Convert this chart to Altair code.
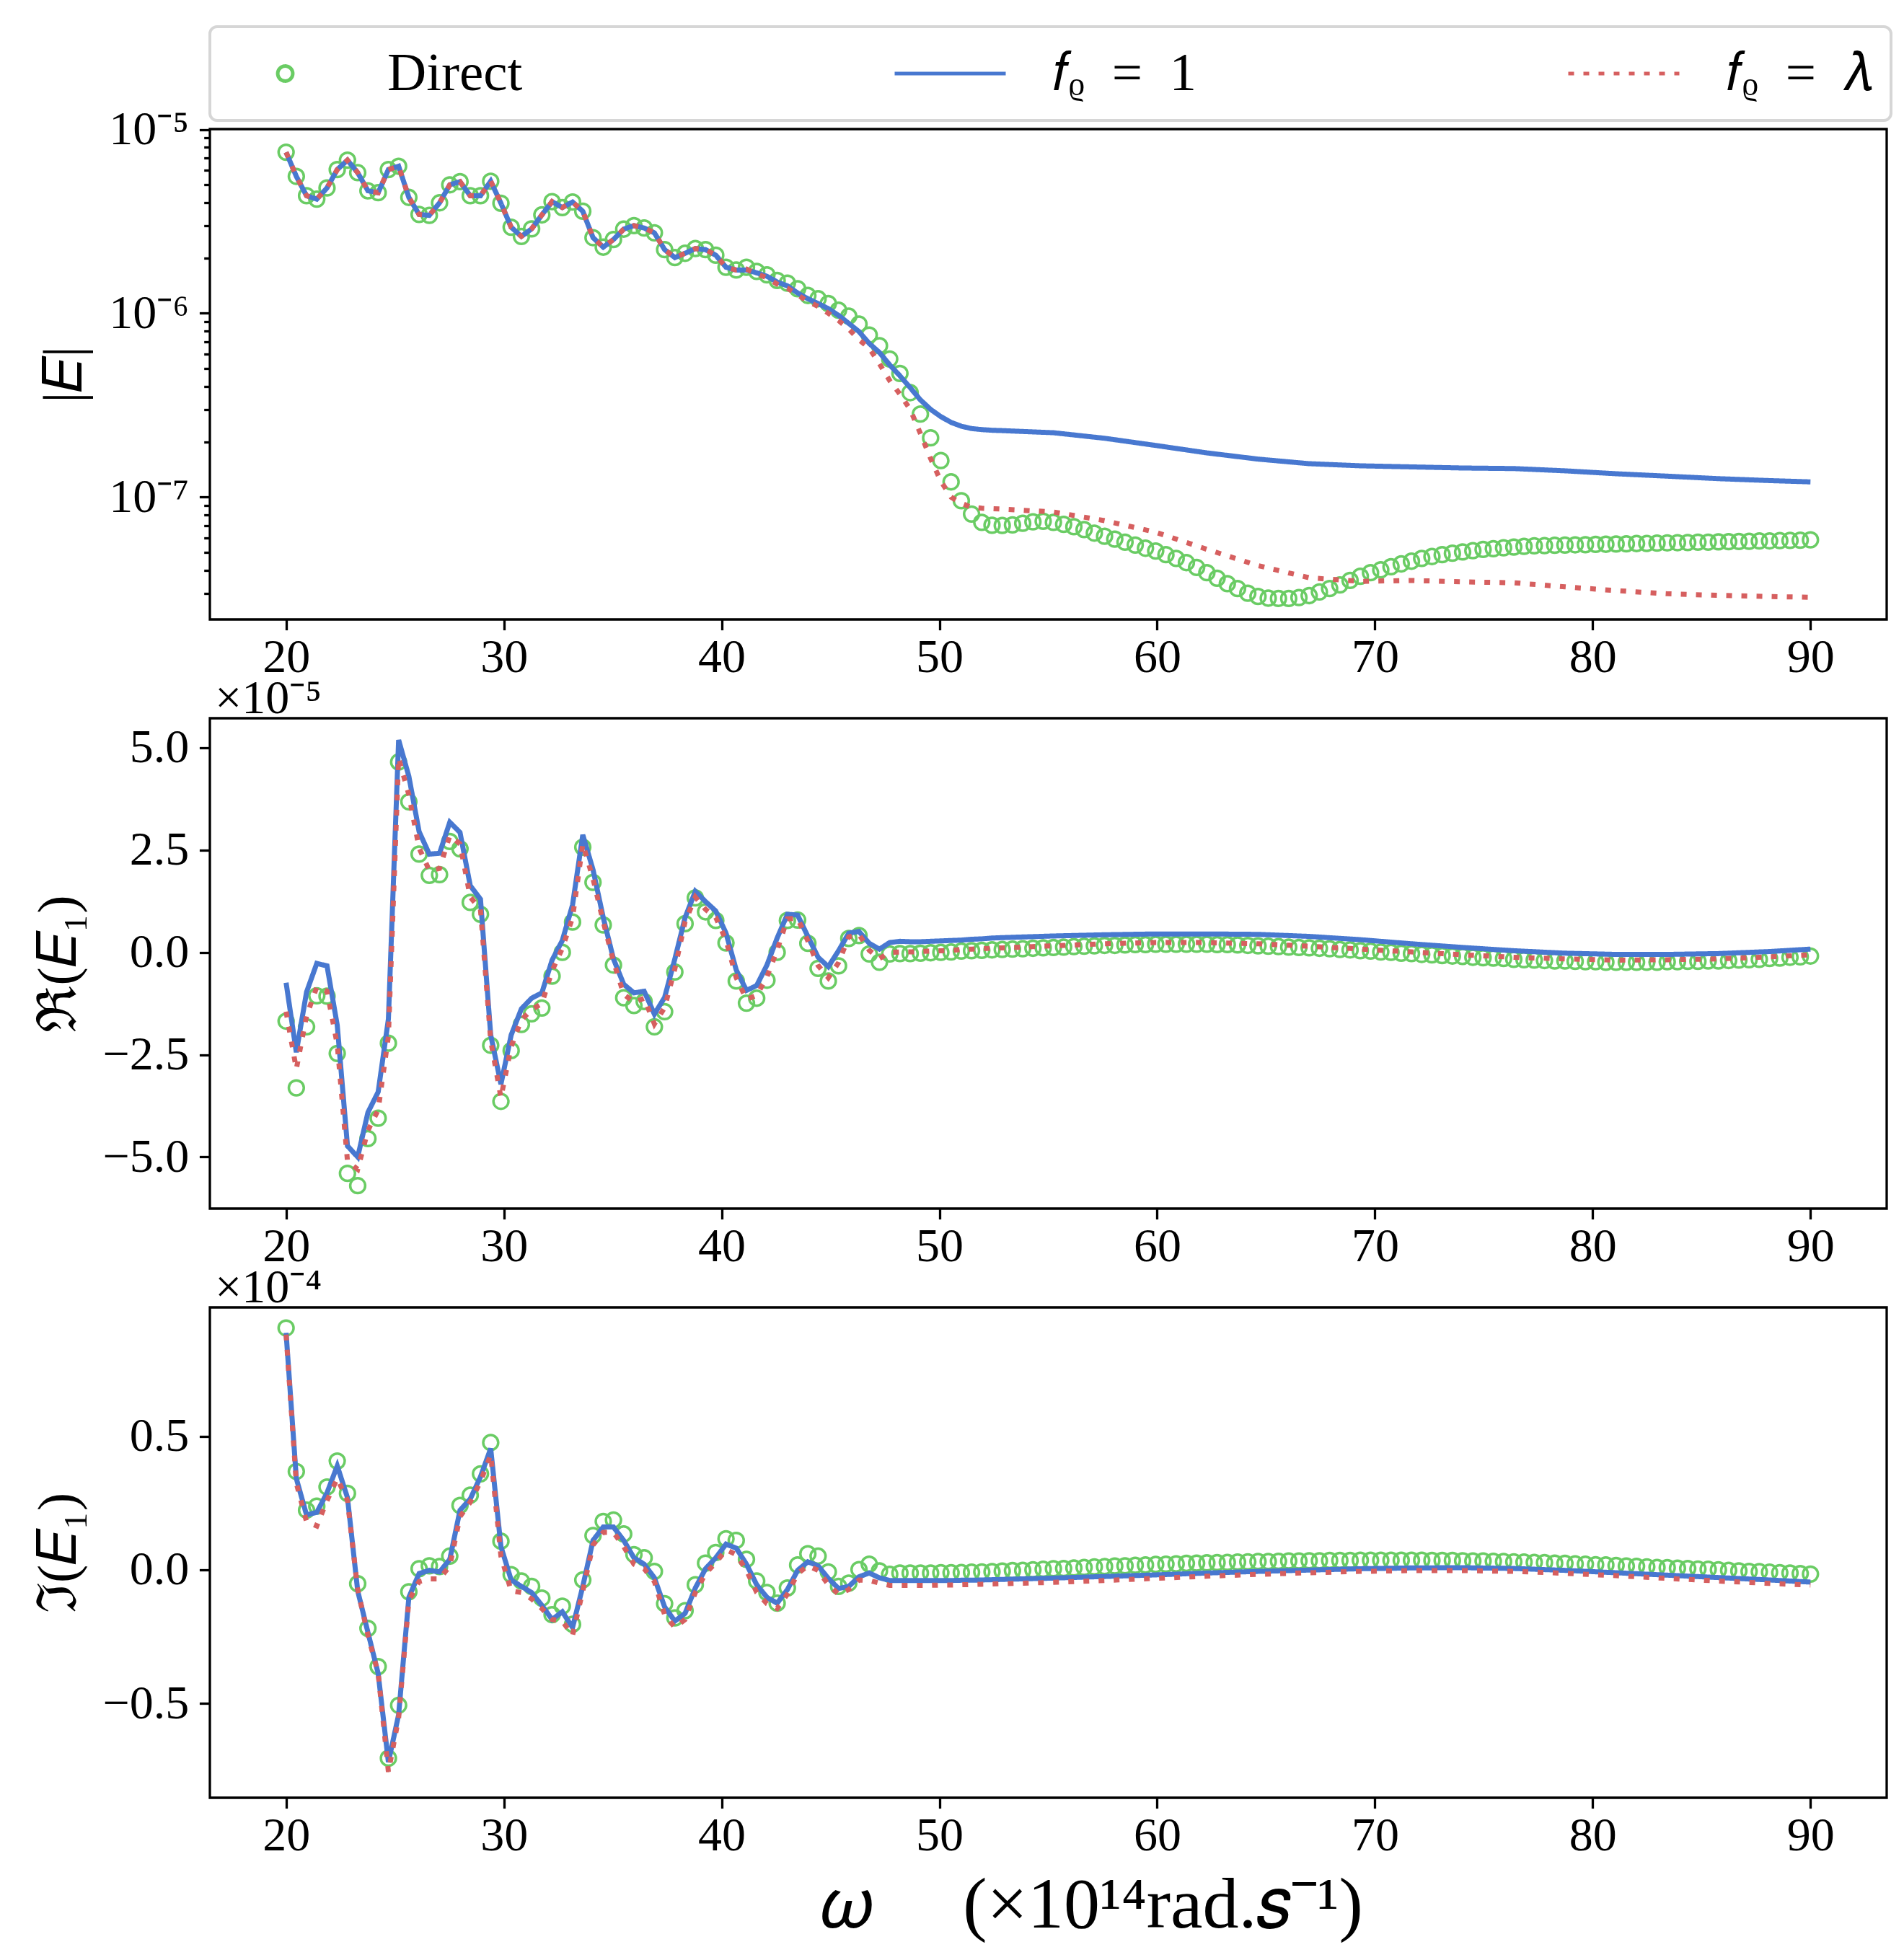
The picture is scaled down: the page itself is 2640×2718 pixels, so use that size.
import numpy as np
import pandas as pd
import altair as alt

# ---------------- data ----------------
OMEGA = np.linspace(20.0, 90.0, 150)          # 150 frequency samples
LINE_IDX = list(range(71)) + list(range(75, 150, 5)) + [149]   # samples used by the two model curves

SERIES = ["Direct", "𝑓ᵨ\u2002=\u20021", "𝑓ᵨ\u2002=\u2002𝜆"]
COLORS = ["#6acc64", "#4878d0", "#d65f5f"]

X_TICKS = [20, 30, 40, 50, 60, 70, 80, 90]
ABS_TICKS = [1e-7, 1e-6, 1e-5,
             3e-8, 4e-8, 5e-8, 6e-8, 7e-8, 8e-8, 9e-8,
             2e-7, 3e-7, 4e-7, 5e-7, 6e-7, 7e-7, 8e-7, 9e-7,
             2e-6, 3e-6, 4e-6, 5e-6, 6e-6, 7e-6, 8e-6, 9e-6]
RE_TICKS = [-5.0, -2.5, 0.0, 2.5, 5.0]
IM_TICKS = [-0.5, 0.0, 0.5]

# |E|  (direct solution, every sample)
ABS_DIRECT = [
    7.52e-6, 5.56e-6, 4.36e-6, 4.18e-6, 4.81e-6, 6.05e-6, 6.81e-6, 5.82e-6, 4.64e-6, 4.53e-6,
    6.05e-6, 6.31e-6, 4.27e-6, 3.45e-6, 3.41e-6, 3.99e-6, 5.00e-6, 5.20e-6, 4.36e-6, 4.36e-6,
    5.23e-6, 3.97e-6, 2.94e-6, 2.62e-6, 2.88e-6, 3.43e-6, 4.05e-6, 3.76e-6, 4.03e-6, 3.59e-6,
    2.58e-6, 2.29e-6, 2.52e-6, 2.87e-6, 3.00e-6, 2.91e-6, 2.74e-6, 2.22e-6, 2.01e-6, 2.12e-6,
    2.25e-6, 2.22e-6, 2.07e-6, 1.78e-6, 1.72e-6, 1.78e-6, 1.69e-6, 1.62e-6, 1.51e-6, 1.46e-6,
    1.36e-6, 1.25e-6, 1.20e-6, 1.13e-6, 1.04e-6, 9.64e-7, 8.73e-7, 7.62e-7, 6.66e-7, 5.64e-7,
    4.71e-7, 3.70e-7, 2.83e-7, 2.10e-7, 1.58e-7, 1.21e-7, 9.55e-8, 8.09e-8, 7.29e-8, 7.03e-8,
    7.01e-8, 7.06e-8, 7.21e-8, 7.34e-8, 7.39e-8, 7.29e-8, 7.11e-8, 6.90e-8, 6.66e-8, 6.37e-8,
    6.12e-8, 5.91e-8, 5.68e-8, 5.48e-8, 5.27e-8, 5.09e-8, 4.86e-8, 4.64e-8, 4.40e-8, 4.14e-8,
    3.88e-8, 3.62e-8, 3.38e-8, 3.18e-8, 3.00e-8, 2.88e-8, 2.82e-8, 2.81e-8, 2.81e-8, 2.84e-8,
    2.91e-8, 3.05e-8, 3.18e-8, 3.33e-8, 3.52e-8, 3.71e-8, 3.88e-8, 4.02e-8, 4.18e-8, 4.33e-8,
    4.48e-8, 4.64e-8, 4.75e-8, 4.86e-8, 4.95e-8, 5.03e-8, 5.11e-8, 5.19e-8, 5.24e-8, 5.30e-8,
    5.35e-8, 5.40e-8, 5.43e-8, 5.45e-8, 5.47e-8, 5.48e-8, 5.50e-8, 5.51e-8, 5.53e-8, 5.54e-8,
    5.56e-8, 5.57e-8, 5.59e-8, 5.60e-8, 5.62e-8, 5.63e-8, 5.65e-8, 5.66e-8, 5.68e-8, 5.69e-8,
    5.71e-8, 5.72e-8, 5.74e-8, 5.75e-8, 5.77e-8, 5.78e-8, 5.80e-8, 5.81e-8, 5.83e-8, 5.85e-8]
# |E| model curves (at LINE_IDX); they coincide with the direct values below omega ~41
ABS_F1 = ABS_DIRECT[:45] + [
    1.72e-6, 1.66e-6, 1.59e-6, 1.48e-6, 1.41e-6, 1.29e-6, 1.20e-6, 1.13e-6, 1.06e-6, 9.74e-7,
    8.81e-7, 7.95e-7, 6.85e-7, 6.12e-7, 5.24e-7, 4.57e-7, 3.94e-7, 3.38e-7, 3.00e-7, 2.74e-7,
    2.55e-7, 2.43e-7, 2.36e-7, 2.33e-7, 2.31e-7, 2.30e-7,
    2.24e-7, 2.09e-7, 1.91e-7, 1.74e-7, 1.61e-7, 1.52e-7, 1.48e-7, 1.46e-7, 1.44e-7, 1.43e-7,
    1.39e-7, 1.34e-7, 1.30e-7, 1.26e-7, 1.23e-7, 1.21e-7]
ABS_FL = ABS_DIRECT[:45] + [
    1.74e-6, 1.64e-6, 1.56e-6, 1.44e-6, 1.37e-6, 1.26e-6, 1.16e-6, 1.09e-6, 1.00e-6, 9.14e-7,
    8.20e-7, 7.18e-7, 6.46e-7, 5.31e-7, 4.30e-7, 3.63e-7, 3.00e-7, 2.22e-7, 1.62e-7, 1.22e-7,
    1.00e-7, 9.25e-8, 8.80e-8, 8.70e-8, 8.65e-8, 8.60e-8,
    8.30e-8, 7.45e-8, 6.44e-8, 5.20e-8, 4.24e-8, 3.64e-8, 3.48e-8, 3.52e-8, 3.46e-8, 3.42e-8,
    3.25e-8, 3.10e-8, 2.98e-8, 2.92e-8, 2.88e-8, 2.85e-8]

# Re(E1) in units of 1e-5
RE_DIRECT = [
    -1.68, -3.31, -1.82, -1.06, -1.07, -2.47, -5.40, -5.70, -4.55, -4.05,
    -2.22, 4.65, 3.68, 2.40, 1.88, 1.90, 2.71, 2.53, 1.22, 0.93,
    -2.27, -3.64, -2.40, -1.76, -1.50, -1.36, -0.58, 0.00, 0.74, 2.57,
    1.71, 0.67, -0.31, -1.11, -1.30, -1.20, -1.82, -1.45, -0.48, 0.70,
    1.33, 0.99, 0.78, 0.23, -0.70, -1.24, -1.12, -0.68, 0.00, 0.78,
    0.79, 0.22, -0.39, -0.70, -0.33, 0.34, 0.41, -0.04, -0.24, -0.04,
    -0.03, -0.03, -0.02, -0.01, 0.00, 0.01, 0.03, 0.04, 0.05, 0.06,
    0.07, 0.08, 0.09, 0.10, 0.11, 0.12, 0.13, 0.14, 0.15, 0.16,
    0.17, 0.17, 0.18, 0.19, 0.19, 0.20, 0.20, 0.20, 0.20, 0.20,
    0.20, 0.19, 0.19, 0.18, 0.17, 0.16, 0.15, 0.14, 0.13, 0.12,
    0.11, 0.10, 0.09, 0.07, 0.06, 0.04, 0.03, 0.01, 0.00, -0.02,
    -0.03, -0.05, -0.06, -0.08, -0.09, -0.10, -0.12, -0.13, -0.14, -0.15,
    -0.17, -0.18, -0.19, -0.20, -0.21, -0.21, -0.22, -0.23, -0.23, -0.24,
    -0.24, -0.24, -0.24, -0.24, -0.24, -0.23, -0.23, -0.22, -0.22, -0.21,
    -0.21, -0.20, -0.19, -0.18, -0.17, -0.15, -0.14, -0.12, -0.11, -0.09]
RE_F1 = [
    -0.74, -2.44, -0.97, -0.27, -0.33, -1.78, -4.73, -5.00, -3.91, -3.41,
    -1.63, 5.19, 4.30, 2.95, 2.40, 2.42, 3.18, 2.93, 1.63, 1.30,
    -2.02, -3.22, -2.02, -1.38, -1.12, -0.99, -0.19, 0.29, 1.16, 2.87,
    2.02, 0.85, -0.16, -0.78, -0.99, -0.95, -1.51, -1.10, -0.16, 0.85,
    1.49, 1.24, 1.01, 0.47, -0.43, -0.93, -0.81, -0.31, 0.35, 0.93,
    0.91, 0.39, -0.12, -0.35, 0.04, 0.47, 0.51, 0.22, 0.08, 0.24,
    0.27, 0.26, 0.26, 0.27, 0.28, 0.29, 0.30, 0.32, 0.33, 0.35, 0.36,
    0.40, 0.43, 0.45, 0.45, 0.44, 0.39, 0.31, 0.21, 0.12, 0.04, -0.02, -0.05, -0.05, -0.03, 0.02, 0.08]
RE_FL = [
    -1.45, -2.85, -1.55, -0.85, -0.95, -2.25, -5.10, -5.30, -4.35, -3.85,
    -2.05, 4.75, 3.85, 2.55, 2.00, 2.05, 2.85, 2.65, 1.35, 1.05,
    -2.15, -3.55, -2.30, -1.65, -1.40, -1.25, -0.45, 0.10, 0.85, 2.65,
    1.80, 0.75, -0.22, -1.02, -1.22, -1.12, -1.75, -1.35, -0.40, 0.75,
    1.35, 1.05, 0.85, 0.30, -0.62, -1.15, -1.05, -0.60, 0.06, 0.82,
    0.83, 0.28, -0.32, -0.62, -0.25, 0.38, 0.44, 0.05, -0.15, 0.00,
    0.01, 0.01, 0.02, 0.03, 0.04, 0.05, 0.07, 0.08, 0.09, 0.10, 0.11,
    0.16, 0.21, 0.24, 0.24, 0.21, 0.15, 0.08, 0.01, -0.06, -0.12, -0.16, -0.19, -0.18, -0.16, -0.11, -0.06]

# Im(E1) in units of 1e-4
IM_DIRECT = [
    0.905, 0.368, 0.223, 0.238, 0.310, 0.407, 0.286, -0.052, -0.219, -0.362,
    -0.705, -0.507, -0.082, 0.004, 0.015, 0.012, 0.051, 0.241, 0.279, 0.359,
    0.476, 0.107, -0.018, -0.042, -0.062, -0.106, -0.168, -0.136, -0.204, -0.038,
    0.128, 0.181, 0.186, 0.134, 0.057, 0.045, -0.006, -0.127, -0.180, -0.153,
    -0.056, 0.025, 0.065, 0.116, 0.110, 0.039, -0.042, -0.085, -0.125, -0.068,
    0.018, 0.060, 0.051, -0.008, -0.062, -0.050, 0.001, 0.021, -0.004, -0.017,
    -0.012, -0.012, -0.012, -0.012, -0.011, -0.011, -0.010, -0.009, -0.008, -0.007,
    -0.005, -0.003, -0.002, 0.000, 0.002, 0.004, 0.005, 0.007, 0.009, 0.011,
    0.012, 0.014, 0.015, 0.017, 0.018, 0.020, 0.021, 0.022, 0.024, 0.025,
    0.026, 0.027, 0.028, 0.029, 0.030, 0.031, 0.031, 0.032, 0.033, 0.033,
    0.034, 0.034, 0.035, 0.035, 0.035, 0.036, 0.036, 0.036, 0.036, 0.036,
    0.036, 0.036, 0.035, 0.035, 0.035, 0.034, 0.033, 0.033, 0.032, 0.031,
    0.030, 0.029, 0.028, 0.027, 0.025, 0.024, 0.022, 0.021, 0.019, 0.018,
    0.016, 0.014, 0.013, 0.011, 0.009, 0.008, 0.006, 0.005, 0.003, 0.002,
    0.000, -0.002, -0.004, -0.006, -0.007, -0.009, -0.011, -0.012, -0.014, -0.016]
IM_F1 = [
    0.887, 0.342, 0.205, 0.215, 0.288, 0.389, 0.270, -0.079, -0.234, -0.388,
    -0.720, -0.542, -0.103, -0.014, -0.002, -0.008, 0.039, 0.223, 0.265, 0.348,
    0.454, 0.087, -0.038, -0.062, -0.085, -0.133, -0.186, -0.157, -0.216, -0.062,
    0.110, 0.160, 0.160, 0.110, 0.045, 0.021, -0.030, -0.139, -0.192, -0.163,
    -0.068, 0.004, 0.045, 0.096, 0.081, 0.021, -0.056, -0.103, -0.125, -0.074,
    -0.002, 0.030, 0.015, -0.032, -0.070, -0.062, -0.026, -0.012, -0.030, -0.040,
    -0.040, -0.040, -0.040, -0.040, -0.040, -0.040, -0.039, -0.039, -0.038, -0.037, -0.036,
    -0.031, -0.025, -0.019, -0.012, -0.006, -0.001, 0.004, 0.007, 0.008, 0.005, -0.002, -0.011,
    -0.020, -0.029, -0.038, -0.046]
IM_FL = [
    0.880, 0.324, 0.180, 0.164, 0.259, 0.342, 0.259, -0.074, -0.245, -0.388,
    -0.756, -0.554, -0.115, -0.044, -0.034, -0.034, 0.015, 0.199, 0.253, 0.330,
    0.431, 0.051, -0.079, -0.085, -0.109, -0.145, -0.186, -0.192, -0.245, -0.079,
    0.093, 0.140, 0.140, 0.087, 0.021, 0.004, -0.044, -0.168, -0.216, -0.186,
    -0.085, -0.014, 0.027, 0.075, 0.057, -0.002, -0.085, -0.127, -0.145, -0.091,
    -0.014, 0.015, -0.002, -0.056, -0.091, -0.074, -0.038, -0.040, -0.050, -0.058,
    -0.058, -0.058, -0.058, -0.058, -0.057, -0.057, -0.056, -0.055, -0.054, -0.053, -0.052,
    -0.047, -0.040, -0.032, -0.024, -0.017, -0.011, -0.006, -0.003, -0.003, -0.006, -0.013, -0.022,
    -0.032, -0.042, -0.051, -0.057]

# ---------------- styling ----------------
FONT = "Liberation Serif"
CIRCLE = "M0.135,0A0.135,0.135,0,1,1,-0.135,0A0.135,0.135,0,1,1,0.135,0Z"
SYM = 23716
W, H = 2325, 680

color_scale = alt.Scale(domain=SERIES, range=COLORS)
shape_scale = alt.Scale(domain=SERIES, range=[CIRCLE, "stroke", "stroke"])
dash_scale = alt.Scale(domain=SERIES, range=[[1, 0], [1, 0], [8, 13]])
x_scale = alt.Scale(domain=[16.5, 93.5], nice=False, zero=False)

LOG10 = "(log(datum.value)/LN10)"
LOG_LABEL = (f"abs({LOG10}+5)<0.01 ? '10⁻⁵' : abs({LOG10}+6)<0.01 ? '10⁻⁶' : "
             f"abs({LOG10}+7)<0.01 ? '10⁻⁷' : ''")
MAJOR_TEST = f"abs({LOG10} - round({LOG10})) < 0.01"

legend_main = alt.Legend(
    title=None, orient="none", legendX=0, legendY=-142, direction="horizontal",
    columns=3, columnPadding=513, symbolSize=SYM, clipHeight=80,
    labelOffset=62, labelFont=FONT, labelFontSize=75, labelLimit=800, labelColor="black",
    padding=25, strokeColor="#d6d6d6", cornerRadius=10, fillColor="white",
    symbolStrokeWidth=5, symbolOpacity=1, symbolFillColor="transparent")
legend_sub = alt.Legend(title=None)


def x_axis(with_title):
    if with_title:
        return alt.Axis(values=X_TICKS, format="d", labelFlush=False, labelPadding=5.5,
                        title="𝜔\u2003 (×10¹⁴rad.𝑠⁻¹)", titleFontSize=100,
                        titleX=1222, titleY=179, titleAlign="center",
                        titleBaseline="alphabetic")
    return alt.Axis(values=X_TICKS, format="d", labelFlush=False, labelPadding=5.5, title=None)


def panel(direct, f1, fl, y_scale, y_axis, legend, with_xtitle, title=None):
    pts = pd.DataFrame({"omega": OMEGA, "v": direct, "series": SERIES[0]})
    xl = OMEGA[LINE_IDX]
    lines = pd.DataFrame({
        "omega": np.concatenate([xl, xl]),
        "v": list(f1) + list(fl),
        "series": [SERIES[1]] * len(xl) + [SERIES[2]] * len(xl),
    })
    x = alt.X("omega:Q", scale=x_scale, axis=x_axis(with_xtitle))
    y = alt.Y("v:Q", scale=y_scale, axis=y_axis)
    leg_c = legend_main if legend else None
    leg_s = legend_sub if legend else None
    p = alt.Chart(pts).mark_point(filled=False, opacity=1, size=SYM, strokeWidth=3.5).encode(
        x=x, y=y,
        color=alt.Color("series:N", scale=color_scale, legend=leg_c),
        shape=alt.Shape("series:N", scale=shape_scale, legend=leg_s),
    )
    l = alt.Chart(lines).mark_line(strokeWidth=7).encode(
        x=x, y=y,
        color=alt.Color("series:N", scale=color_scale, legend=leg_c),
        strokeDash=alt.StrokeDash("series:N", scale=dash_scale, legend=leg_s),
    )
    ch = alt.layer(p, l).properties(width=W, height=H)
    if title is not None:
        ch = ch.properties(title=alt.TitleParams(title, anchor="start", frame="group",
                                                 fontSize=66, font=FONT, fontWeight="normal",
                                                 baseline="alphabetic", offset=16, dy=75, dx=7,
                                                 color="black"))
    return ch


top = panel(
    ABS_DIRECT, ABS_F1, ABS_FL,
    alt.Scale(type="log", domain=[2.16e-8, 1.005e-5], nice=False),
    alt.Axis(values=ABS_TICKS, labelExpr=LOG_LABEL, labelOverlap=False, labelFlush=False,
             tickSize={"condition": {"test": MAJOR_TEST, "value": 14.6}, "value": 8.3},
             title="|𝐸|"),
    True, False)

mid = panel(
    RE_DIRECT, RE_F1, RE_FL,
    alt.Scale(domain=[-6.26, 5.72], nice=False, zero=False),
    alt.Axis(values=RE_TICKS, format=".1f", labelFlush=False, title="ℜ(𝐸₁)"),
    False, False, title="×10⁻⁵")

bot = panel(
    IM_DIRECT, IM_F1, IM_FL,
    alt.Scale(domain=[-0.853, 0.982], nice=False, zero=False),
    alt.Axis(values=IM_TICKS, format=".1f", labelFlush=False, title="ℑ(𝐸₁)"),
    False, True, title="×10⁻⁴")

chart = (
    alt.vconcat(top, mid, bot, spacing=137, bounds="flush")
    .resolve_legend(color="independent", shape="independent", strokeDash="independent")
    .properties(padding={"left": 33, "top": 25, "right": 5, "bottom": 0})
    .configure_view(stroke="black", strokeWidth=3.3)
    .configure_axis(domain=False, grid=False, tickColor="black", tickWidth=3.3, tickSize=14.6,
                    labelFont=FONT, labelFontSize=66, labelColor="black", labelPadding=14.6,
                    titleFont=FONT, titleFontSize=76, titleFontWeight="normal",
                    titleColor="black", titlePadding=22)
    .configure_legend(strokeWidth=4)
)

chart.save("out.html", embed_options={"renderer": "svg", "actions": False})
